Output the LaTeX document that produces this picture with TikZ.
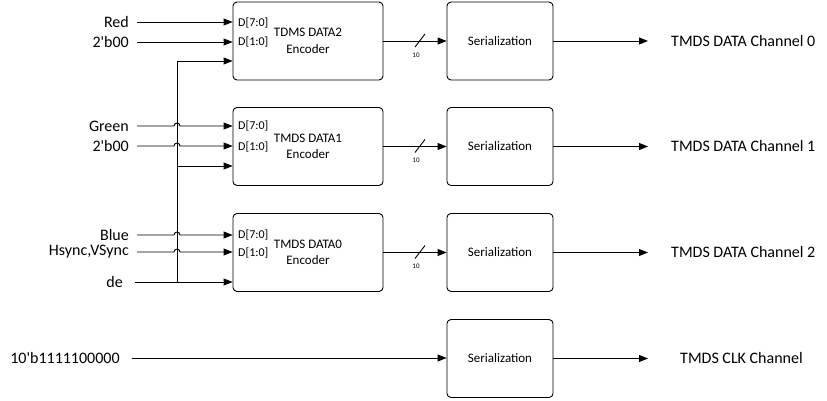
\documentclass[tikz,border=0pt]{standalone}
\usepackage{fontspec}
\setmainfont{Carlito}
\newfontfamily\plainfont{Carlito}
\usetikzlibrary{arrows.meta}
\begin{document}
\begin{tikzpicture}[x=1pt,y=-1pt,
  blk/.style={draw,rounded corners=4pt,line width=0.9pt,inner sep=0pt},
  enc/.style={blk,minimum width=150pt,minimum height=78pt,font=\plainfont\fontsize{13}{16.5}\selectfont,align=center},
  ser/.style={blk,minimum width=106pt,minimum height=78pt,font=\plainfont\fontsize{13}{15}\selectfont},
  lab/.style={inner sep=0pt,font=\plainfont\fontsize{16}{19}\selectfont},
  port/.style={inner sep=0pt,anchor=west,font=\plainfont\fontsize{12}{14}\selectfont},
  wire/.style={line width=0.9pt},
  arr/.style={wire,-{Triangle[length=9pt,width=7pt]}},
  buslab/.style={inner sep=0pt,font=\plainfont\fontsize{7}{8}\selectfont},
]
\useasboundingbox (0,0) rectangle (827,401);

% encoders
\node[enc] (enc1) at (308,41) {TDMS DATA2\\Encoder};
\node[enc] (enc2) at (308,146.5) {TMDS DATA1\\Encoder};
\node[enc] (enc3) at (308,252.5) {TMDS DATA0\\Encoder};

% ports
\node[port] (p1a) at (238,23) {D[7:0]};
\node[port] (p1b) at (238,42) {D[1:0]};
\node[port] (p2a) at (238,126) {D[7:0]};
\node[port] (p2b) at (238,146.5) {D[1:0]};
\node[port] (p3a) at (238,235) {D[7:0]};
\node[port] (p3b) at (238,252.5) {D[1:0]};

% serializers
\node[ser] (ser1) at (500,41) {Serialization};
\node[ser] (ser2) at (500,146.5) {Serialization};
\node[ser] (ser3) at (500,252.5) {Serialization};
\node[ser] (ser4) at (500,358.5) {Serialization};

% input labels
\node[lab,anchor=east] (red) at (129,22) {Red};
\node[lab,anchor=east] (z1) at (129,42) {2'b00};
\node[lab,anchor=east] (green) at (129,126) {Green};
\node[lab,anchor=east] (z2) at (129,146) {2'b00};
\node[lab,anchor=east] (blue) at (129,235) {Blue};
\node[lab,anchor=east] (hs) at (129,252) {Hsync,VSync};
\node[lab,anchor=east] (de) at (123,282) {de};
\node[lab] (clk) at (65,358) {10'b1111100000};

% output labels
\node[lab,anchor=west] (ch0) at (671,41) {TMDS DATA Channel 0};
\node[lab,anchor=west] (ch1) at (671,146.5) {TMDS DATA Channel 1};
\node[lab,anchor=west] (ch2) at (671,252.5) {TMDS DATA Channel 2};
\node[lab,anchor=west] (ch3) at (680,358.5) {TMDS CLK Channel};

\coordinate (o1) at (648,41);
\coordinate (o2) at (648,146.5);
\coordinate (o3) at (648,252.5);
\coordinate (o4) at (648,358.5);

% bus
\coordinate (bustop) at (177,61);
\coordinate (busmid) at (177,166);
\coordinate (busbot) at (177,282);

% inputs to encoder 1
\draw[arr] ([xshift=8pt]red.east) -- (red.east -| enc1.west);
\draw[arr] ([xshift=8pt]z1.east) -- (z1.east -| enc1.west);

% inputs to encoder 2 with hops
\draw[arr] ([xshift=8pt]green.east) -- ([xshift=-3pt]bustop |- green.east)
  arc[start angle=180,end angle=0,radius=3pt] -- (green.east -| enc2.west);
\draw[arr] ([xshift=8pt]z2.east) -- ([xshift=-3pt]bustop |- z2.east)
  arc[start angle=180,end angle=0,radius=3pt] -- (z2.east -| enc2.west);

% inputs to encoder 3 with hops
\draw[arr] ([xshift=8pt]blue.east) -- ([xshift=-3pt]bustop |- blue.east)
  arc[start angle=180,end angle=0,radius=3pt] -- (blue.east -| enc3.west);
\draw[arr] ([xshift=8pt]hs.east) -- ([xshift=-3pt]bustop |- hs.east)
  arc[start angle=180,end angle=0,radius=3pt] -- (hs.east -| enc3.west);

% de distribution
\draw[arr] ([xshift=12pt]de.east) -- (busbot -| enc3.west);
\draw[wire] (busbot) -- (bustop);
\draw[arr] (bustop) -- (bustop -| enc1.west);
\draw[arr] (busmid) -- (busmid -| enc2.west);

% encoder to serializer
\draw[arr] (enc1.east) -- (ser1.west);
\draw[arr] (enc2.east) -- (ser2.west);
\draw[arr] (enc3.east) -- (ser3.west);
\foreach \y in {41,146.5,252.5}{
  \draw[wire] (415,\y+6) -- (425,\y-7);
  \node[buslab] at (416,\y+14) {10};
}

% clk input
\draw[arr] ([xshift=12pt]clk.east) -- (clk.east -| ser4.west);

% outputs
\draw[arr] (ser1.east) -- (o1);
\draw[arr] (ser2.east) -- (o2);
\draw[arr] (ser3.east) -- (o3);
\draw[arr] (ser4.east) -- (o4);
\end{tikzpicture}
\end{document}
